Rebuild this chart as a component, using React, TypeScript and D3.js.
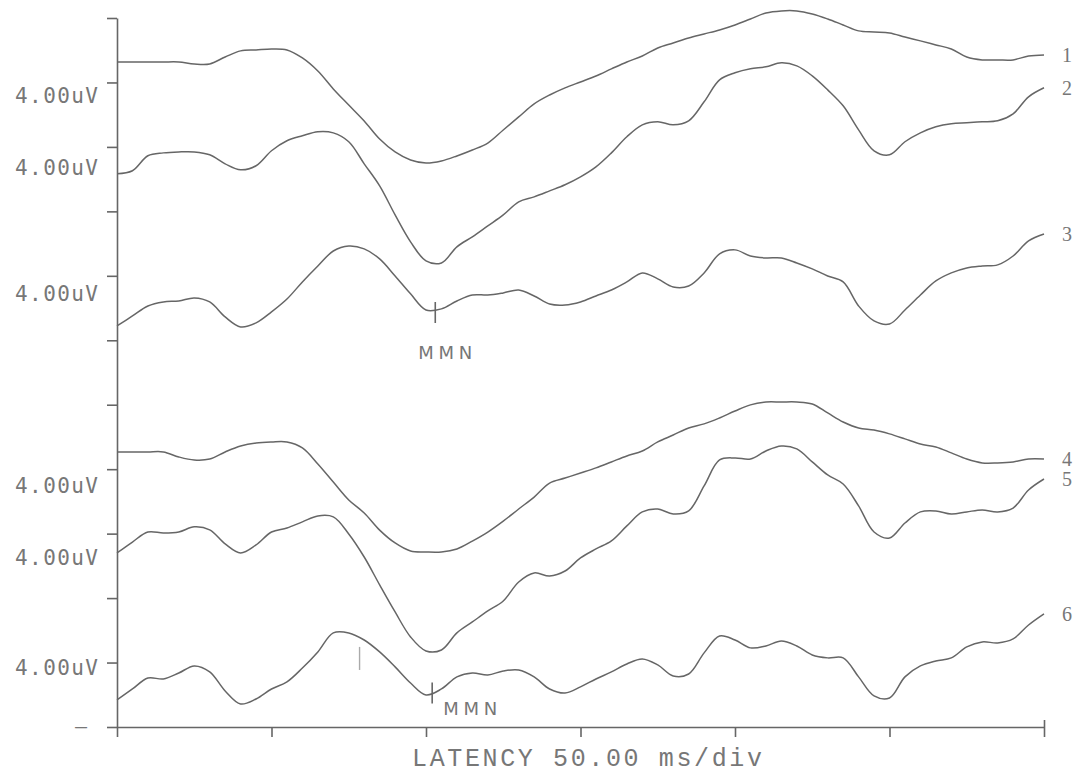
import React, { useEffect, useRef } from "react";
import * as d3 from "d3";

// sample grid, ms
const times = d3.range(0, 301, 5);

// amplitudes in uV, relative to each channel's baseline
const trace1 = [1.27, 1.27, 1.27, 1.27, 1.27, 1.15, 1.15, 1.58, 1.96, 2.02, 2.08, 2.02, 1.52, 0.71, -0.4, -1.4, -2.39, -3.51, -4.31, -4.81, -5.0, -4.87, -4.56, -4.19, -3.76, -2.95, -2.14, -1.33, -0.78, -0.34, 0.03, 0.4, 0.84, 1.27, 1.64, 2.14, 2.45, 2.76, 3.01, 3.26, 3.57, 3.94, 4.31, 4.44, 4.44, 4.25, 3.94, 3.57, 3.2, 3.13, 3.07, 2.82, 2.58, 2.33, 2.08, 1.58, 1.4, 1.4, 1.4, 1.64, 1.71];
const trace2 = [0.33, 0.52, 1.45, 1.63, 1.69, 1.69, 1.51, 0.95, 0.58, 0.83, 1.76, 2.38, 2.69, 2.94, 2.87, 2.32, 0.95, -0.42, -2.22, -3.89, -5.07, -5.2, -4.2, -3.58, -2.9, -2.22, -1.41, -1.1, -0.73, -0.35, 0.14, 0.76, 1.63, 2.63, 3.37, 3.56, 3.37, 3.62, 4.8, 6.16, 6.6, 6.85, 6.97, 7.22, 7.03, 6.41, 5.54, 4.55, 3.06, 1.76, 1.51, 2.32, 2.87, 3.25, 3.44, 3.5, 3.56, 3.62, 4.05, 5.11, 5.67];
const trace3 = [-1.11, -0.49, 0.13, 0.38, 0.44, 0.63, 0.38, -0.55, -1.17, -0.92, -0.24, 0.56, 1.62, 2.61, 3.54, 3.85, 3.67, 3.05, 1.99, 0.88, -0.12, -0.05, 0.44, 0.81, 0.81, 0.94, 1.12, 0.75, 0.25, 0.19, 0.38, 0.75, 1.12, 1.62, 2.18, 1.81, 1.31, 1.37, 2.18, 3.36, 3.61, 3.23, 3.11, 3.11, 2.8, 2.43, 1.99, 1.62, 0.13, -0.8, -0.99, -0.12, 0.81, 1.68, 2.18, 2.49, 2.61, 2.68, 3.23, 4.17, 4.6];
const trace4 = [0.07, 0.07, 0.07, 0.07, -0.24, -0.43, -0.37, 0.07, 0.44, 0.63, 0.69, 0.69, 0.32, -0.68, -1.8, -2.91, -3.72, -4.78, -5.58, -6.08, -6.14, -6.14, -5.95, -5.46, -4.9, -4.22, -3.47, -2.73, -1.86, -1.55, -1.24, -0.92, -0.55, -0.18, 0.13, 0.69, 1.12, 1.56, 1.81, 2.18, 2.61, 2.99, 3.17, 3.17, 3.17, 3.05, 2.49, 1.93, 1.56, 1.43, 1.19, 0.88, 0.56, 0.38, 0.01, -0.37, -0.61, -0.61, -0.55, -0.37, -0.37];
const trace5 = [-0.2, 0.48, 1.1, 1.04, 1.1, 1.42, 1.23, 0.36, -0.2, 0.3, 1.1, 1.35, 1.73, 2.1, 2.04, 0.98, -0.45, -2.18, -3.86, -5.41, -6.28, -6.22, -5.16, -4.48, -3.8, -3.18, -2.0, -1.44, -1.63, -1.32, -0.51, 0.05, 0.55, 1.48, 2.35, 2.53, 2.22, 2.41, 3.96, 5.57, 5.7, 5.63, 6.13, 6.44, 6.26, 5.45, 4.64, 4.08, 2.72, 1.1, 0.73, 1.66, 2.35, 2.41, 2.22, 2.35, 2.47, 2.35, 2.59, 3.71, 4.39];
const trace6 = [-2.32, -1.64, -0.96, -1.02, -0.65, -0.21, -0.58, -1.76, -2.57, -2.26, -1.64, -1.2, -0.34, 0.66, 1.84, 1.84, 1.4, 0.66, -0.27, -1.27, -2.01, -1.64, -0.89, -0.65, -0.77, -0.52, -0.46, -0.89, -1.64, -1.89, -1.51, -1.02, -0.58, -0.09, 0.22, -0.15, -0.83, -0.71, 0.6, 1.65, 1.4, 0.91, 1.03, 1.34, 1.03, 0.47, 0.29, 0.29, -0.89, -2.07, -2.2, -0.89, -0.21, 0.1, 0.29, 0.97, 1.28, 1.22, 1.47, 2.33, 3.02];

const traces = [trace1, trace2, trace3, trace4, trace5, trace6];
const traceNames = ["1", "2", "3", "4", "5", "6"];
// channel baselines on the stacked axis, uV
const baselines = [40, 34, 26, 17, 11, 4];

const scaleLabels = ["4.00uV", "4.00uV", "4.00uV", "4.00uV", "4.00uV", "4.00uV"];
const scaleLabelLevels = [39.2, 34.7, 26.9, 15.0, 10.55, 3.7];

const xTicks = [0, 50, 100, 150, 200, 250, 300];
const yTicks = d3.range(0, 45, 4);

// MMN peaks: channel index, latency ms
const mmnMarks = [
  { trace: 2, time: 103, dx: -17, dy: 47 },
  { trace: 5, time: 102, dx: 11, dy: 22 },
];

const W = 1085;
const H = 775;
const ink = "#666";

export default function App() {
  const xAxisRef = useRef<SVGGElement>(null);
  const yAxisRef = useRef<SVGGElement>(null);
  const endTickRef = useRef<SVGGElement>(null);

  const x = d3.scaleLinear().domain([0, 300]).range([117, 1044]);
  const y = d3.scaleLinear().domain([0, 44]).range([727, 18]);

  const line = d3
    .line<number>()
    .x((_, i) => x(times[i]))
    .y((d) => y(d))
    .curve(d3.curveCatmullRom.alpha(0.5));

  useEffect(() => {
    const styleAxis = (g: any) => {
      g.selectAll("path, line").attr("stroke", ink).attr("stroke-width", 1.6);
      g.selectAll("text").remove();
    };
    d3.select(yAxisRef.current)
      .call(d3.axisLeft(y).tickValues(yTicks).tickSize(10).tickSizeOuter(0).tickFormat(() => "") as any)
      .call(styleAxis);
    d3.select(xAxisRef.current)
      .call(d3.axisBottom(x).tickValues(xTicks).tickSize(10).tickSizeOuter(0).tickFormat(() => "") as any)
      .call(styleAxis);
    d3.select(endTickRef.current)
      .call(d3.axisTop(x).tickValues([300]).tickSize(7).tickSizeOuter(0).tickFormat(() => "") as any)
      .call(styleAxis)
      .call((g: any) => g.select(".domain").remove());
  }, []);

  return (
    <svg
      width={W}
      height={H}
      style={{ position: "absolute", left: 0, top: 0, background: "#fff" }}
    >
      <g ref={yAxisRef} transform={`translate(${x(0)},0)`} />
      <g ref={xAxisRef} transform={`translate(0,${y(0)})`} />
      <g ref={endTickRef} transform={`translate(0,${y(0)})`} />

      {traces.map((t, i) => (
        <path
          key={i}
          d={line(t.map((v) => v + baselines[i])) || ""}
          fill="none"
          stroke={ink}
          strokeWidth={1.5}
          strokeLinejoin="round"
        />
      ))}

      {traces.map((t, i) => (
        <text
          key={"n" + i}
          x={x(300) + 18}
          y={y(t[t.length - 1] + baselines[i])}
          dy="0.35em"
          fontFamily="'Liberation Serif', serif"
          fontSize={20}
          fill="#777"
        >
          {traceNames[i]}
        </text>
      ))}

      {scaleLabels.map((s, i) => (
        <text
          key={"s" + i}
          x={15}
          y={y(scaleLabelLevels[i])}
          dy="0.36em"
          textLength={83}
          lengthAdjust="spacing"
          fontFamily="'DejaVu Sans Mono', monospace"
          fontSize={21}
          fill="#777"
        >
          {s}
        </text>
      ))}
      <text
        x={81}
        y={y(0)}
        dy="0.32em"
        textAnchor="middle"
        fontFamily="'DejaVu Sans Mono', monospace"
        fontSize={20}
        fill="#777"
      >
        –
      </text>

      {mmnMarks.map((m, k) => {
        const idx = Math.round(m.time / 5);
        const v = traces[m.trace];
        const t0 = times[idx];
        const t1 = times[Math.min(idx + 1, times.length - 1)];
        const f = (m.time - t0) / (t1 - t0 || 1);
        const val = v[idx] + (v[Math.min(idx + 1, v.length - 1)] - v[idx]) * f + baselines[m.trace];
        const cx = x(m.time);
        const cy = y(val);
        return (
          <g key={"m" + k}>
            <line x1={cx} x2={cx} y1={cy - 10} y2={cy + 11} stroke={ink} strokeWidth={1.6} />
            <text
              x={cx + m.dx}
              y={cy + m.dy}
              textLength={54}
              lengthAdjust="spacing"
              fontFamily="'DejaVu Sans', sans-serif"
              fontSize={18}
              fill="#777"
            >
              MMN
            </text>
          </g>
        );
      })}

      {/* faint cursor on channel 6 */}
      <line x1={x(78.5)} x2={x(78.5)} y1={y(4.97)} y2={y(3.54)} stroke="#aaa" strokeWidth={1.4} />

      <text
        x={412}
        y={766}
        textLength={350}
        lengthAdjust="spacing"
        fontFamily="'Liberation Mono', monospace"
        fontSize={25}
        fill="#777"
      >
        LATENCY  50.00 ms/div
      </text>
    </svg>
  );
}
